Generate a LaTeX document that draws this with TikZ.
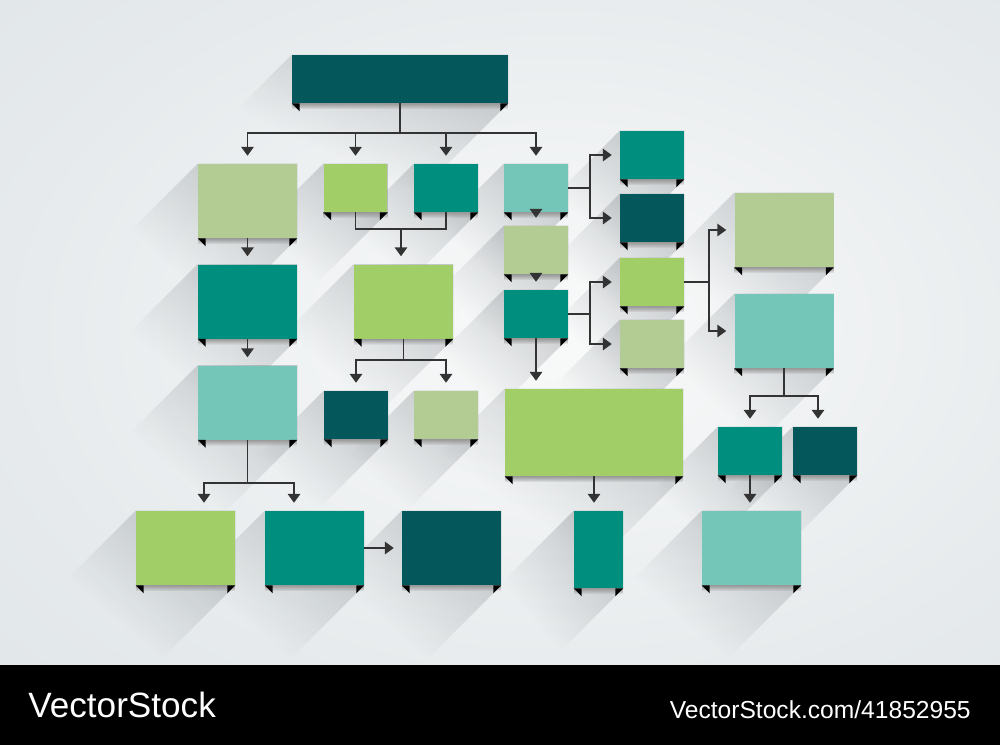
\documentclass[tikz,border=0pt]{standalone}
\usepackage{fontspec}
\setmainfont{Liberation Sans}
\usetikzlibrary{arrows.meta,calc,fadings,positioning}

\definecolor{fcDark}{RGB}{4,87,90}
\definecolor{fcTeal}{RGB}{0,142,126}
\definecolor{fcAqua}{RGB}{116,198,184}
\definecolor{fcLime}{RGB}{161,206,103}
\definecolor{fcSage}{RGB}{179,204,147}
\definecolor{fcWire}{RGB}{51,51,51}
\definecolor{fcShadow}{RGB}{95,103,110}
\definecolor{bgIn}{RGB}{249,250,250}
\definecolor{bgMid}{RGB}{230,234,236}
\definecolor{bgOut}{RGB}{214,222,226}

\pgfdeclarelayer{bg}
\pgfdeclarelayer{shadow}
\pgfsetlayers{bg,shadow,main}

\pgfdeclareradialshading{bgglow}{\pgfpoint{0bp}{0bp}}{color(0bp)=(bgIn); color(22bp)=(bgMid); color(50bp)=(bgOut)}
% long diagonal shadow: opaque next to the box, gone at the far end
\pgfdeclareverticalshading{shadowramp}{100bp}{color(0bp)=(black); color(42bp)=(black); color(74bp)=(white!32!black); color(100bp)=(white!32!black)}
\begin{tikzfadingfrompicture}[name=longshadow]
\shade[shading=shadowramp, shading angle=-45] (0,0) rectangle (2,2);
\end{tikzfadingfrompicture}

\begin{document}
\begin{tikzpicture}[x=0.02cm, y=-0.02cm,
  big/.style={shape=rectangle, minimum width=1.98cm, minimum height=1.48cm, inner sep=0pt},
  small/.style={shape=rectangle, minimum width=1.28cm, minimum height=0.96cm, inner sep=0pt},
  link/.style={draw=fcWire, line width=0.9pt, -{Triangle[width=7pt,length=5pt]}, shorten >=4.5pt},
  joint/.style={draw=fcWire, line width=0.9pt}]
\useasboundingbox (0,0) rectangle (1000,745);
\begin{pgfonlayer}{bg}
\begin{scope}
\clip (0,0) rectangle (1000,665);
\shade[shading=bgglow] (-80,-100) rectangle (1200,760);
\end{scope}
\end{pgfonlayer}

% boxes
\node[shape=rectangle, inner sep=0pt, minimum width=4.32cm, minimum height=0.96cm, fill=fcDark] (T) at (400,79) {};
\node[big, fill=fcSage] (A1) at (247.5,201) {};
\node[small, fill=fcLime] (A2) at (355.5,188) {};
\node[small, fill=fcTeal] (A3) at (446,188) {};
\node[small, fill=fcAqua] (A4) at (536,188) {};
\node[big, fill=fcTeal] (B1) at (247.5,301.5) {};
\node[big, fill=fcAqua] (C1) at (247.5,402.5) {};
\node[big, fill=fcLime] (D1) at (185.5,548) {};
\node[big, fill=fcTeal] (D2) at (314.5,548) {};
\node[big, fill=fcDark] (D3) at (451.5,548) {};
\node[big, fill=fcLime] (B2) at (403.5,301.5) {};
\node[small, fill=fcDark] (C2) at (356,415) {};
\node[small, fill=fcSage] (C3) at (446,415) {};
\node[small, fill=fcSage] (B4) at (536,250) {};
\node[small, fill=fcTeal] (C4) at (536,314) {};
\node[small, fill=fcTeal] (R1) at (652,155) {};
\node[small, fill=fcDark] (R2) at (652,218) {};
\node[small, fill=fcLime] (R3) at (652,282) {};
\node[small, fill=fcSage] (R4) at (652,344) {};
\node[shape=rectangle, inner sep=0pt, minimum width=3.56cm, minimum height=1.74cm, fill=fcLime] (E) at (594,432.5) {};
\node[shape=rectangle, inner sep=0pt, minimum width=0.98cm, minimum height=1.54cm, fill=fcTeal] (E2) at (598.5,549.5) {};
\node[big, fill=fcSage] (F1) at (784,230) {};
\node[big, fill=fcAqua] (F2) at (784,331) {};
\node[small, fill=fcTeal] (G1) at (750,451) {};
\node[small, fill=fcDark] (G2) at (825,451) {};
\node[big, fill=fcAqua] (H1) at (751.5,548) {};

% shadows and folded corners
\foreach \n in {T,A1,A2,A3,A4,B1,C1,D1,D2,D3,B2,C2,C3,B4,C4,R1,R2,R3,R4,E,E2,F1,F2,G1,G2,H1} {
  \begin{pgfonlayer}{shadow}
  \fill[fcShadow, path fading=longshadow] (\n.north west) -- (\n.north east) -- (\n.south east)
    -- ($(\n.south east)+(-95,95)$) -- ($(\n.south west)+(-95,95)$) -- ($(\n.north west)+(-95,95)$) -- cycle;
  \end{pgfonlayer}
  \fill[black!40, path fading=south] (\n.south west) rectangle ($(\n.south east)+(0,6)$);
  \fill[black] (\n.south west) -- ++(8,0) -- ++(0,8) -- cycle;
  \fill[black] (\n.south east) -- ++(-8,0) -- ++(0,8) -- cycle;
}

% connectors
\coordinate (J1) at (400,133);
\draw[joint] (T.south) -- (J1);
\draw[link] (J1) -| (A1.north);
\draw[link] (J1) -| (A2.north);
\draw[link] (J1) -| (A3.north);
\draw[link] (J1) -| (A4.north);
\coordinate (J2) at (401,229);
\draw[joint] (A2.south) |- (J2) -| (A3.south);
\draw[link] (J2) -- (J2 |- B2.north);
\draw[link] (A1.south) -- (B1.north);
\draw[link] (B1.south) -- (C1.north);
\coordinate (J3) at (247.5,483);
\draw[joint] (C1.south) -- (J3);
\draw[link] (J3) -| ([xshift=0.37cm]D1.north);
\draw[link] (J3) -| ([xshift=-0.41cm]D2.north);
\draw[link] (D2.east) -- (D3.west);
\coordinate (J4) at (403.5,360);
\draw[joint] (B2.south) -- (J4);
\draw[link] (J4) -| (C2.north);
\draw[link] (J4) -| (C3.north);
\draw[link] (A4.south) -- (B4.north);
\draw[link] (B4.south) -- (C4.north);
\coordinate (J5) at (590,188);
\draw[joint] (A4.east) -- (J5);
\draw[link] (J5) |- (R1.west);
\draw[link] (J5) |- (R2.west);
\coordinate (J6) at (590,314);
\draw[joint] (C4.east) -- (J6);
\draw[link] (J6) |- (R3.west);
\draw[link] (J6) |- (R4.west);
\draw[link] (C4.south) -- (C4.south |- E.north);
\draw[link] (E.south) -- (E.south |- E2.north);
\coordinate (J7) at (709,282);
\draw[joint] (R3.east) -- (J7);
\draw[link] (J7) |- (F1.west);
\draw[link] (J7) |- (F2.west);
\coordinate (J8) at (784,396);
\draw[joint] (F2.south) -- (J8);
\draw[link] (J8) -| (G1.north);
\draw[link] (J8) -| ([xshift=-0.14cm]G2.north);
\draw[link] (G1.south) -- (G1.south |- H1.north);

% footer band
\fill[black] (0,665) rectangle (1000,745);
\node[anchor=base west, text=white, inner sep=0pt, font=\fontsize{20}{24}\selectfont] (brand) at (28,717) {VectorStock};
\node[anchor=base east, text=white, inner sep=0pt, font=\fontsize{14}{17}\selectfont] (url) at (971,718) {VectorStock.com/41852955};
\end{tikzpicture}
\end{document}
